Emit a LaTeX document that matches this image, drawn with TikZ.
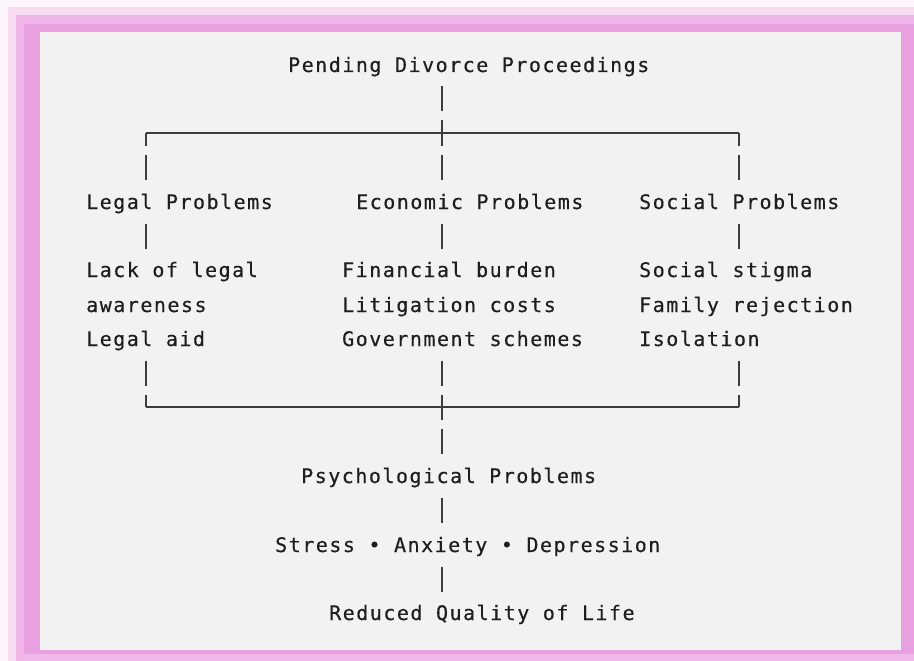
\documentclass[tikz,border=0pt]{standalone}
\usepackage{fontspec}
\newfontfamily\monof[LetterSpace=7.5,FakeBold=0.4]{DejaVu Sans Mono}
\definecolor{pk0}{HTML}{FDF5FC}
\definecolor{pk1}{HTML}{F7DCF2}
\definecolor{pk2}{HTML}{EEB5E6}
\definecolor{pk3}{HTML}{E9A0E0}
\definecolor{pk4}{HTML}{EFB8E8}
\definecolor{panel}{HTML}{F2F2F2}
\definecolor{txtc}{HTML}{1E1E1E}
\definecolor{linec}{HTML}{3C3C3C}
\begin{document}
\begin{tikzpicture}[x=1pt,y=-1pt,
  txt/.style={anchor=base west, inner sep=0pt, font=\monof\fontsize{20}{20}\selectfont, text=txtc},
  bar/.style={draw=linec, line width=1.4pt},
  hbar/.style={draw=linec, line width=1.3pt}]
\useasboundingbox (0,0) rectangle (914,661);
% frame
\fill[pk0] (0,0) rectangle (914,661);
\fill[pk1] (8,7) rectangle (914,661);
\fill[pk2] (16,15) rectangle (914,661);
\fill[pk3] (24,24) rectangle (914,654);
\fill[pk4] (24,654) rectangle (914,661);
\fill[panel] (40,32) rectangle (901,650);
% texts
\node[txt] (pend) at (288,72) {Pending Divorce Proceedings};
\node[txt] (legal) at (86,209) {Legal Problems};
\node[txt] (econ) at (356,209) {Economic Problems};
\node[txt] (soc) at (639,209) {Social Problems};
\node[txt] (l1) at (86,277) {Lack of legal};
\node[txt] (l2) at (86,312) {awareness};
\node[txt] (l3) at (86,346) {Legal aid};
\node[txt] (e1) at (342,277) {Financial burden};
\node[txt] (e2) at (342,312) {Litigation costs};
\node[txt] (e3) at (342,346) {Government schemes};
\node[txt] (s1) at (639,277) {Social stigma};
\node[txt] (s2) at (639,312) {Family rejection};
\node[txt] (s3) at (639,346) {Isolation};
\node[txt] (psy) at (301,483) {Psychological Problems};
\node[txt] (sad) at (275,552) {Stress • Anxiety • Depression};
\node[txt] (qol) at (329,620) {Reduced Quality of Life};
% junction coordinates
\coordinate (tl) at (146,133);
\coordinate (tc) at (442,133);
\coordinate (tr) at (739,133);
\coordinate (bl) at (146,407);
\coordinate (bc) at (442,407);
\coordinate (br) at (739,407);
% horizontal rails and corners
\draw[hbar] (tl) -- (tr);
\draw[hbar] (bl) -- (br);
\draw[bar] (tl) -- ++(0,12.5);
\draw[bar] (tr) -- ++(0,12.5);
\draw[bar] (bl) -- ++(0,-12.5);
\draw[bar] (br) -- ++(0,-12.5);
% spine segments
\foreach \n/\y in {a/86.5,b/120.5,c/154.5,d/223.5,e/360.5,f/394.5,g/428.5,h/497.5,i/566.5}{
  \coordinate (sp\n) at (442,\y);
  \draw[bar] (sp\n) -- ++(0,25);
}
% side segments
\foreach \n/\y in {a/154.5,b/223.5,c/360.5}{
  \coordinate (lf\n) at (146,\y);
  \coordinate (rt\n) at (739,\y);
  \draw[bar] (lf\n) -- ++(0,25);
  \draw[bar] (rt\n) -- ++(0,25);
}
\end{tikzpicture}
\end{document}
